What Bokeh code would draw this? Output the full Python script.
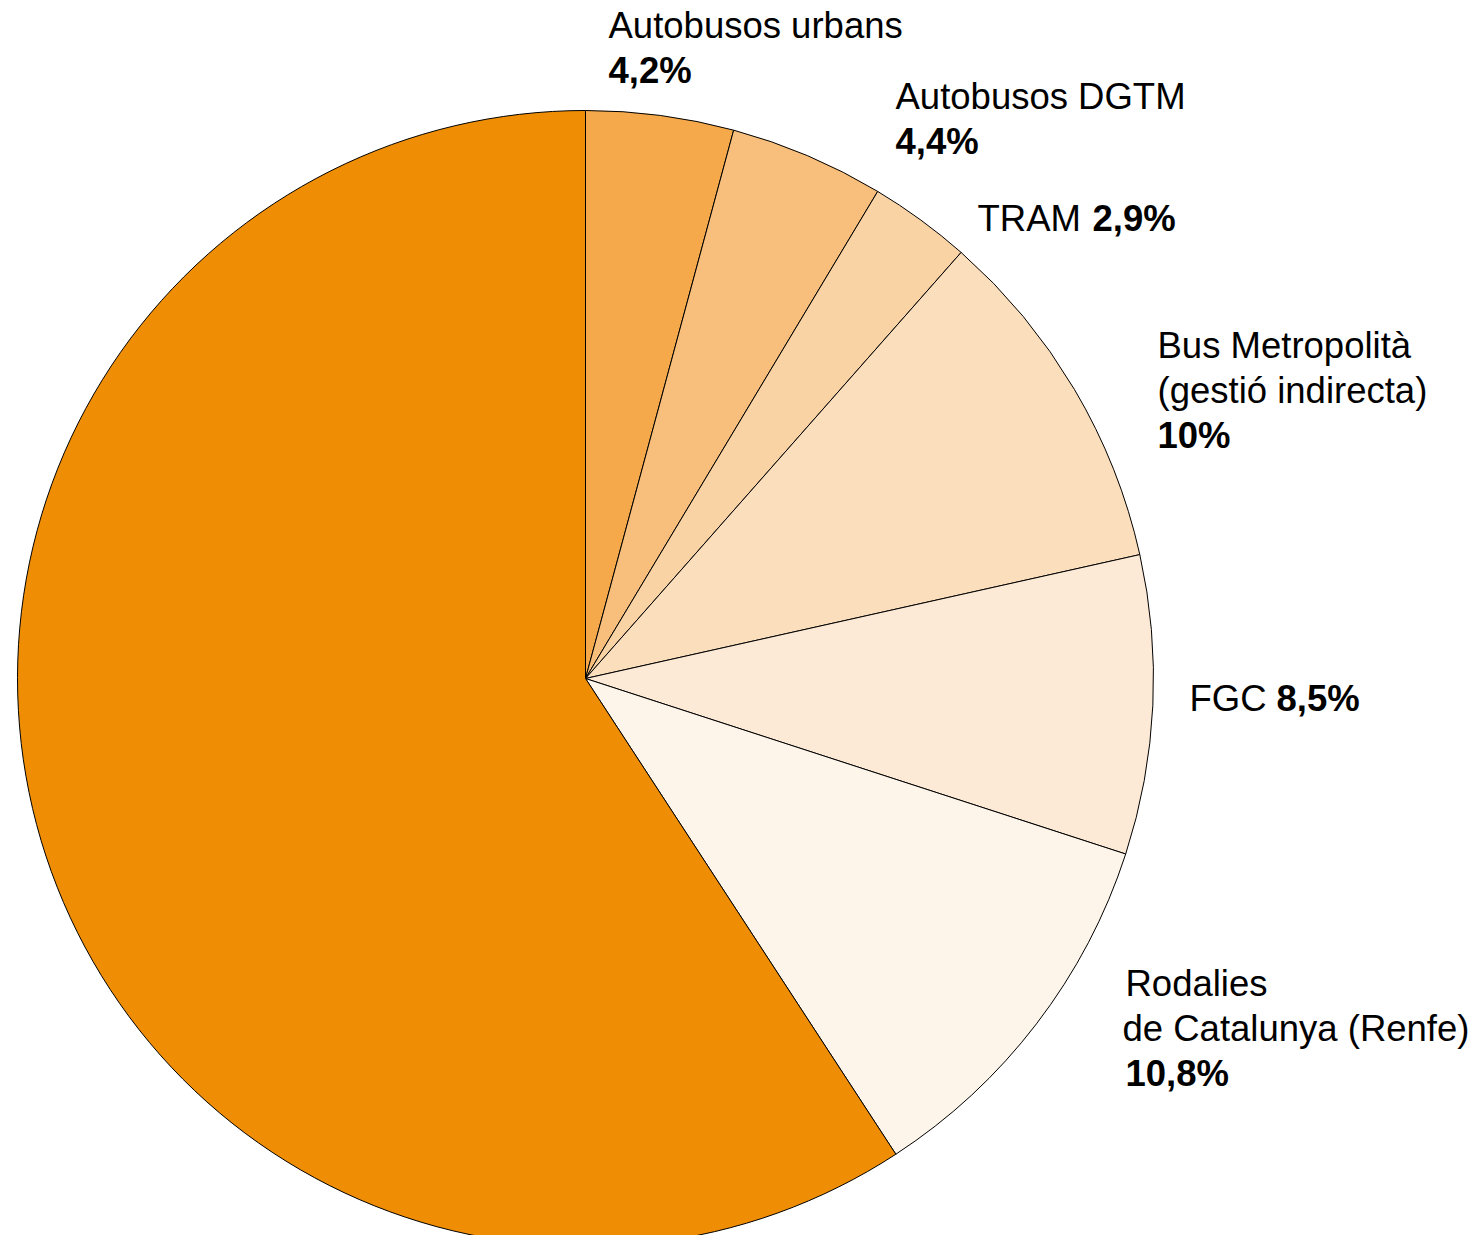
import math
from bokeh.plotting import figure
from bokeh.models import ColumnDataSource, Range1d
from bokeh.core.properties import value
from bokeh.embed import file_html
from bokeh.resources import INLINE

# ---- data ----
categories = ["Autobusos urbans", "Autobusos DGTM", "TRAM", "Bus Metropolità (gestió indirecta)",
              "FGC", "Rodalies de Catalunya (Renfe)", "Resta"]
shares = [4.2, 4.4, 2.9, 10.0, 8.5, 10.8, 59.2]
pct_labels = ["4,2%", "4,4%", "2,9%", "10%", "8,5%", "10,8%", ""]
colors = ["#F5A94A", "#F8BE7B", "#FAD3A5", "#FBDFBD", "#FDEAD6", "#FDF5EA", "#EF8E04"]

W, H = 1475, 1235
p = figure(width=W, height=H, output_backend="svg", toolbar_location=None,
           x_range=Range1d(0, W), y_range=Range1d(0, H), min_border=0)
p.axis.visible = False
p.grid.visible = False
p.outline_line_color = None
p.background_fill_color = "white"
p.border_fill_color = "white"

def sx(x):
    return x
def sy(y):
    return H - y

cx, cy, R = sx(585), sy(678), 568
total = sum(shares)
starts, ends = [], []
cum = 0.0
for s in shares:
    a0 = math.pi / 2 - 2 * math.pi * cum / total
    cum += s
    a1 = math.pi / 2 - 2 * math.pi * cum / total
    starts.append(a1)
    ends.append(a0)

src = ColumnDataSource(dict(x=[cx] * len(shares), y=[cy] * len(shares),
                            start=starts, end=ends, color=colors, cat=categories))
p.wedge(x="x", y="y", radius=R, start_angle="start", end_angle="end",
        direction="anticlock", fill_color="color", line_color="black",
        line_width=1, source=src)

FS = "36.5px"
font = value("Liberation Sans")
DY = -12  # baseline correction

# label layout (screen coordinates): (text, x, baseline)
normal_lines = [
    ("Autobusos urbans", 608, 37),
    ("Autobusos DGTM", 895, 108),
    ("TRAM", 977, 230),
    ("Bus Metropolità", 1157, 357),
    ("(gestió indirecta)", 1157, 402),
    ("FGC", 1189, 710),
    ("Rodalies", 1125, 995),
    ("de Catalunya (Renfe)", 1122, 1040),
]
bold_lines = [
    (pct_labels[0], 608, 82),
    (pct_labels[1], 895, 153),
    (pct_labels[2], 1092, 230),
    (pct_labels[3], 1157, 447),
    (pct_labels[4], 1276, 710),
    (pct_labels[5], 1125, 1085),
]

p.text(x=[sx(t[1]) for t in normal_lines], y=[sy(t[2] + DY) for t in normal_lines],
       text=[t[0] for t in normal_lines], text_font=font, text_font_size=FS,
       text_baseline="alphabetic", text_align="left", text_color="black")
p.text(x=[sx(t[1]) for t in bold_lines], y=[sy(t[2] + DY) for t in bold_lines],
       text=[t[0] for t in bold_lines], text_font=font, text_font_size=FS,
       text_font_style="bold", text_baseline="alphabetic", text_align="left",
       text_color="black")

open("out.html", "w").write(file_html(p, INLINE))
